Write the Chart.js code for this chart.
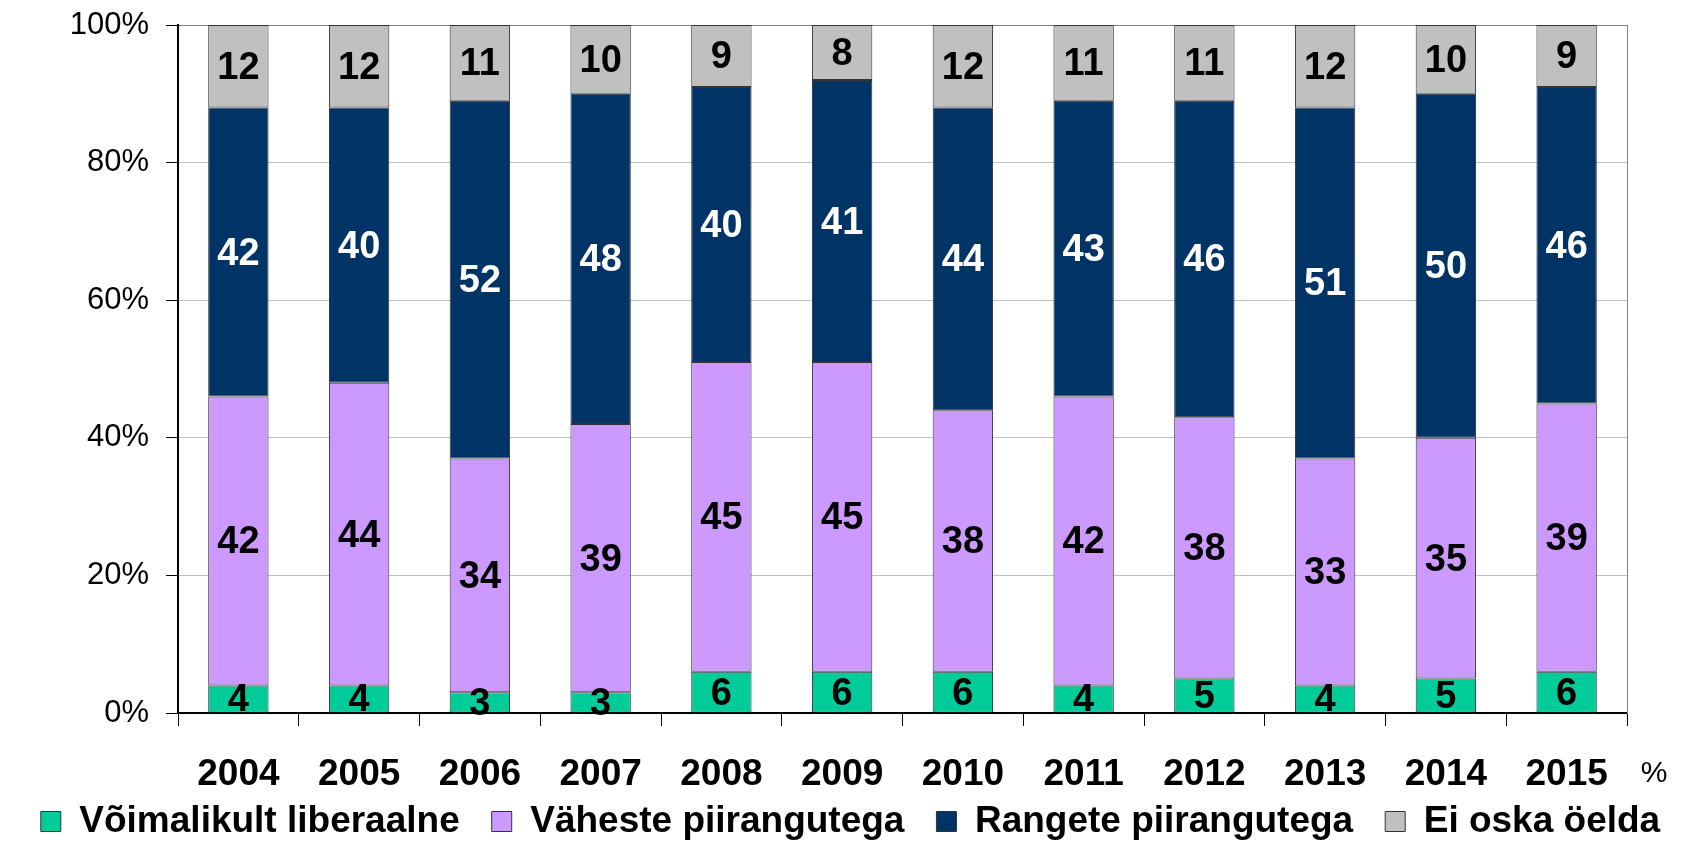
<!DOCTYPE html>
<html lang="et">
<head>
  <meta charset="UTF-8" />
  <title>Suhtumine</title>
  <script src="https://cdn.jsdelivr.net/npm/chart.js"></script>
  <style>
    body { margin: 0; background: #fff; }
    #wrap { width: 1701px; height: 842px; position: relative; }
  </style>
</head>
<body>
  <div id="wrap"><canvas id="chart"></canvas></div>

  <script>
    const years = ['2004', '2005', '2006', '2007', '2008', '2009', '2010', '2011', '2012', '2013', '2014', '2015'];
    const liberal = [4, 4, 3, 3, 6, 6, 6, 4, 5, 4, 5, 6];
    const fewLimits = [42, 44, 34, 39, 45, 45, 38, 42, 38, 33, 35, 39];
    const strictLimits = [42, 40, 52, 48, 40, 41, 44, 43, 46, 51, 50, 46];
    const dontKnow = [12, 12, 11, 10, 9, 8, 12, 11, 11, 12, 10, 9];
    const seriesNames = ['Võimalikult liberaalne', 'Väheste piirangutega', 'Rangete piirangutega', 'Ei oska öelda'];
    const seriesColors = ['#00CC99', '#CC99FF', '#003366', '#C0C0C0'];
    const labelColors = ['#000', '#000', '#fff', '#000'];

    Chart.defaults.font.family = '"Liberation Sans", Arial, sans-serif';
    Chart.defaults.color = '#000';

    // value labels centred in each segment
    const segmentLabels = {
      id: 'segmentLabels',
      afterDatasetsDraw(chart) {
        const ctx = chart.ctx;
        ctx.save();
        ctx.font = 'bold 38px "Liberation Sans", Arial, sans-serif';
        ctx.textAlign = 'center';
        ctx.textBaseline = 'middle';
        chart.data.datasets.forEach((ds, i) => {
          const meta = chart.getDatasetMeta(i);
          meta.data.forEach((bar, j) => {
            const p = bar.getProps(['x', 'y', 'base'], true);
            ctx.fillStyle = labelColors[i];
            ctx.fillText(String(ds.data[j]), p.x, (p.y + p.base) / 2 + 2);
          });
        });
        ctx.restore();
      }
    };

    // legend sits a bit closer to the year labels than the layout allows
    const legendNudge = {
      id: 'legendNudge',
      afterLayout(chart) {
        chart.legend.top -= 24;
        chart.legend.bottom -= 24;
      }
    };

    // the "%" after the last year
    const unitMark = {
      id: 'unitMark',
      afterDraw(chart) {
        const ctx = chart.ctx;
        const xs = chart.scales.x;
        ctx.save();
        ctx.font = '30px "Liberation Sans", Arial, sans-serif';
        ctx.fillStyle = '#000';
        ctx.textAlign = 'center';
        ctx.textBaseline = 'middle';
        ctx.fillText('%', chart.chartArea.right + 27, xs.top + 61);
        ctx.restore();
      }
    };

    new Chart(document.getElementById('chart'), {
      type: 'bar',
      data: {
        labels: years,
        datasets: [liberal, fewLimits, strictLimits, dontKnow].map((d, i) => ({
          label: seriesNames[i],
          data: d,
          backgroundColor: seriesColors[i],
          borderColor: '#333',
          borderWidth: 1,
          borderSkipped: false,
          barPercentage: 0.5,
          categoryPercentage: 1
        }))
      },
      options: {
        responsive: true,
        maintainAspectRatio: false,
        animation: false,
        layout: { padding: { top: 25, bottom: -32, left: 0, right: 0 } },
        plugins: {
          legend: {
            position: 'bottom',
            labels: {
              boxWidth: 20,
              boxHeight: 20,
              padding: 32,
              font: { size: 37, weight: 'bold' },
              color: '#000'
            }
          },
          tooltip: { enabled: false }
        },
        scales: {
          x: {
            stacked: true,
            grid: { drawOnChartArea: false, drawTicks: true, tickLength: 13, color: '#000', offset: true },
            border: { color: '#000', width: 2 },
            ticks: { font: { size: 37, weight: 'bold' }, padding: 27, maxRotation: 0 },
            afterFit(s) { s.height = 82; }
          },
          y: {
            stacked: true,
            min: 0,
            max: 100,
            ticks: { stepSize: 20, font: { size: 31 }, padding: 17, callback: v => v + '%' },
            grid: {
              color: c => (c.tick && c.tick.value === 100 ? '#808080' : '#C0C0C0'),
              tickColor: '#000',
              tickLength: 12
            },
            border: { color: '#000', width: 2 },
            afterFit(s) {
              s.width = 178;
              s.paddingTop = 0;
              s.paddingBottom = 0;
            }
          },
          y2: {
            position: 'right',
            min: 0,
            max: 100,
            ticks: { display: false },
            grid: { drawOnChartArea: false, drawTicks: false },
            border: { color: '#808080', width: 1 },
            afterFit(s) { s.width = 74; }
          }
        }
      },
      plugins: [segmentLabels, legendNudge, unitMark]
    });
  </script>
</body>
</html>
